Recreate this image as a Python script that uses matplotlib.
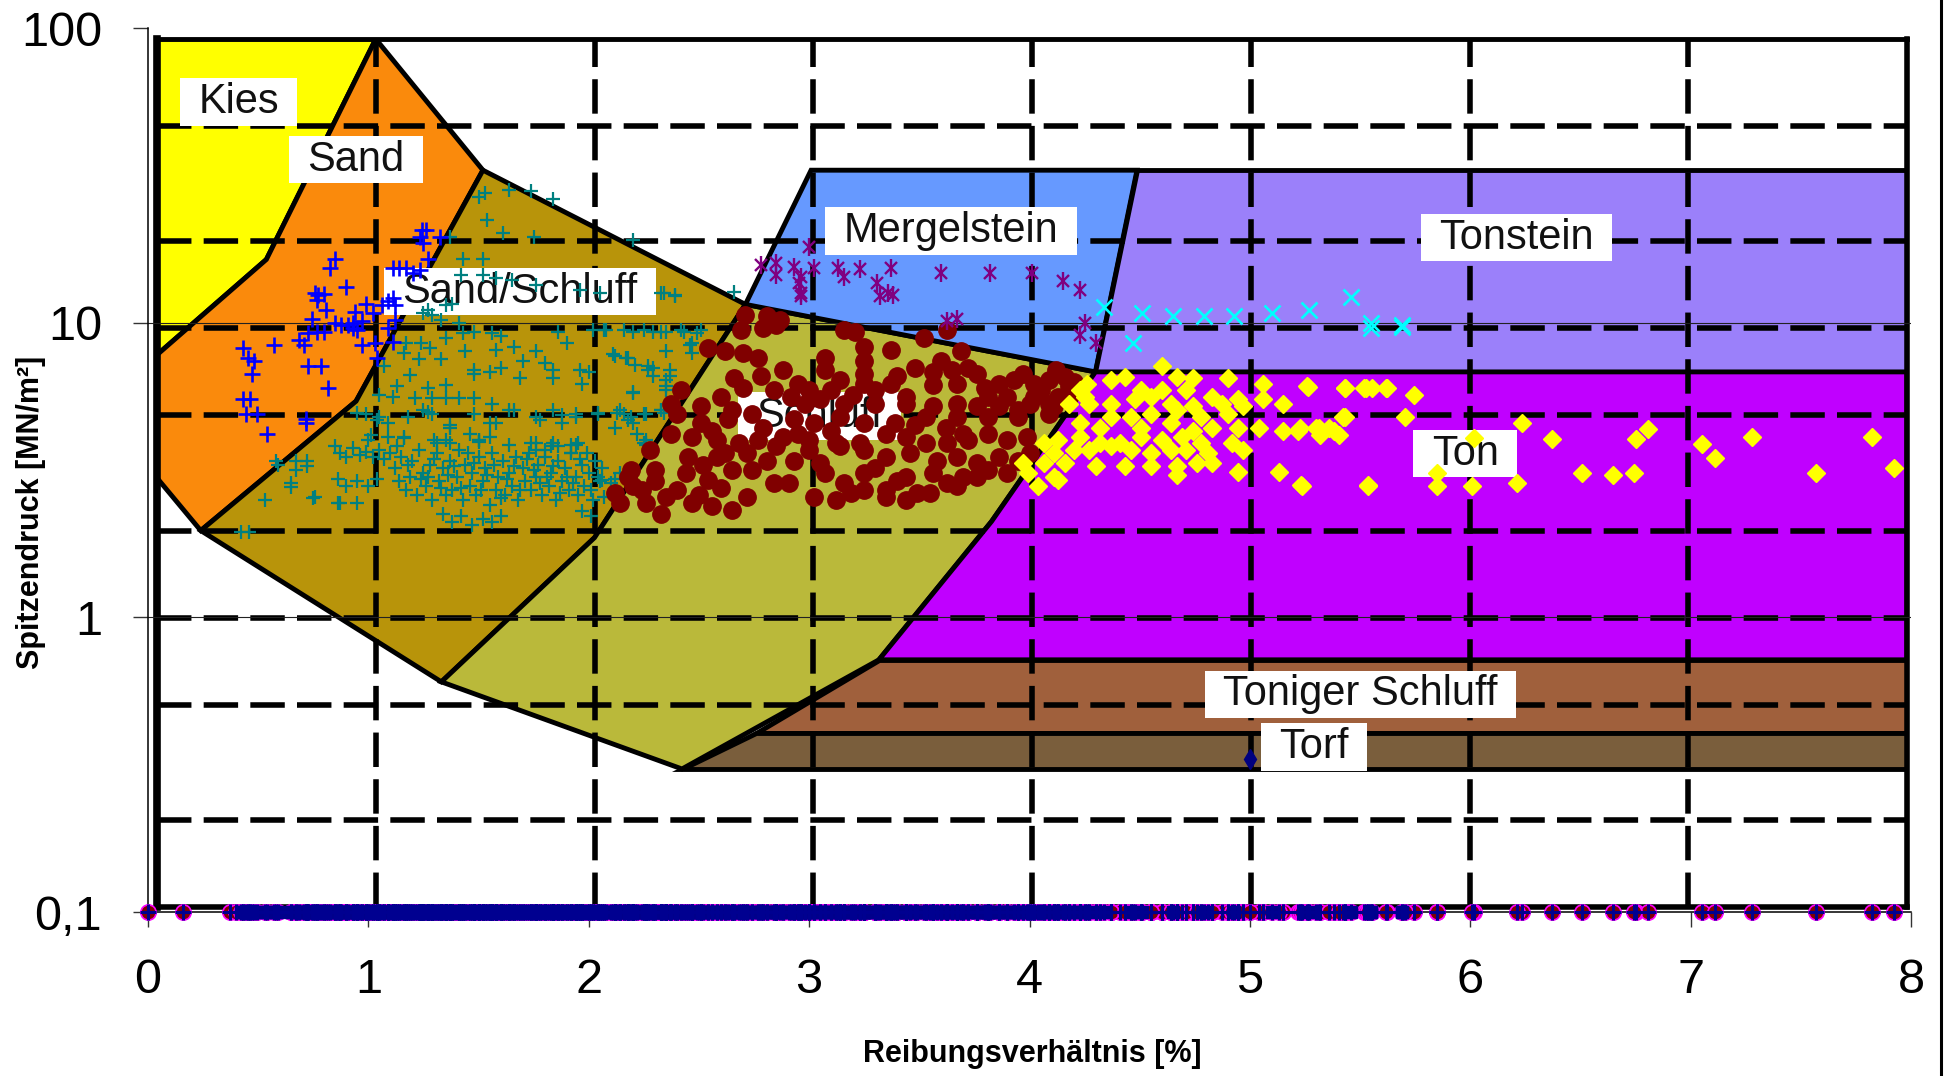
import numpy as np
import matplotlib
matplotlib.use("Agg")
import matplotlib.pyplot as plt
from matplotlib.lines import Line2D
from matplotlib.path import Path
from matplotlib.ticker import NullLocator

plt.rcParams['font.family'] = ['Liberation Sans', 'DejaVu Sans']

# ---- soil zones of the classification chart (x: Reibungsverhältnis %, y: MN/m²)
kies_x = [0, 1.0, 0.5, 0]
kies_y = [100, 100, 17.3, 8.1]
sand_x = [1.0, 1.49, 0.91, 0.2, 0, 0, 0.5]
sand_y = [100, 35.2, 5.6, 2.0, 3.04, 8.1, 17.3]
sandschluff_x = [1.49, 2.69, 2.0, 1.3, 0.2, 0.91]
sandschluff_y = [35.2, 12.1, 1.89, 0.6, 2.0, 5.6]
schluff_x = [2.69, 4.29, 3.815, 3.3, 2.4, 1.3, 2.0]
schluff_y = [12.1, 7.07, 2.15, 0.715, 0.3, 0.6, 1.89]
mergel_x = [2.99, 4.48, 4.29, 2.69]
mergel_y = [35.2, 35.2, 7.07, 12.1]
tonstein_x = [4.48, 8, 8, 4.29]
tonstein_y = [35.2, 35.2, 7.07, 7.07]
ton_x = [4.29, 8, 8, 3.3, 3.815]
ton_y = [7.07, 7.07, 0.715, 0.715, 2.15]
tonschluff_x = [3.3, 8, 8, 2.74]
tonschluff_y = [0.715, 0.715, 0.40, 0.40]
torf_x = [2.74, 8, 8, 2.4]
torf_y = [0.40, 0.40, 0.30, 0.30]

zone_labels = ['Kies', 'Sand', 'Sand/Schluff', 'Mergelstein', 'Tonstein',
               'Schluff', 'Ton', 'Toniger Schluff', 'Torf']
label_x = [0.374, 0.91, 1.66, 3.63, 6.216, 3.03, 5.98, 5.50, 5.29]
label_y = [60.5, 38.3, 13.4, 21.7, 20.6, 4.98, 3.69, 0.543, 0.357]

bg_grid_x = [1, 2, 3, 4, 5, 6, 7]
bg_grid_y = [0.2, 0.5, 1, 2, 5, 10, 20, 50]

# ---- measured points
sand_pts = [(1.243, 20.6), (1.263, 20.6), (1.232, 19.6), (1.249, 18.6), (1.324, 19.5), (1.269, 16.5),
            (0.848, 16.4), (0.827, 15.3), (1.111, 15.3), (1.141, 15.3), (1.172, 15.3), (1.202, 14.7),
            (1.232, 15.1), (0.898, 13.2), (0.756, 12.6), (0.771, 12.4), (0.797, 12.5), (0.766, 11.9),
            (0.807, 11.0), (0.989, 11.6), (1.060, 11.5), (1.091, 11.8), (1.111, 12.1), (1.121, 11.5),
            (0.939, 10.9), (1.020, 10.8), (0.746, 10.3), (0.848, 9.95), (0.878, 9.8), (0.908, 9.8),
            (0.929, 9.6), (0.949, 9.45), (0.929, 9.95), (0.969, 10.1), (1.121, 10.2), (1.091, 9.6),
            (0.766, 9.3), (0.797, 9.3), (0.726, 9.2), (0.686, 8.7), (0.706, 8.4), (0.574, 8.4),
            (0.432, 8.2), (0.453, 7.6), (0.483, 7.4), (0.473, 6.7), (0.726, 7.1), (0.787, 7.1),
            (0.817, 6.0), (0.969, 8.4), (1.030, 8.5), (1.111, 8.6), (1.040, 7.6), (0.432, 5.5),
            (0.463, 5.5), (0.443, 4.9), (0.493, 4.9), (0.540, 4.2), (0.716, 4.7), (0.716, 4.55)]

sandschluff_pts = [
    (1.50, 26.8), (1.53, 27.5), (1.64, 28.2), (1.74, 28.0), (1.84, 26.2), (1.54, 22.3), (1.61, 20.1),
    (1.75, 19.6), (1.37, 19.5), (1.43, 16.4), (1.52, 16.4), (1.42, 14.5), (1.52, 14.5), (1.58, 14.2),
    (1.65, 14.0), (1.76, 13.4), (1.96, 12.9), (2.05, 12.6), (2.34, 12.6), (2.39, 12.4), (1.27, 11.0),
    (1.35, 11.5), (1.38, 11.6), (1.25, 10.8), (1.29, 10.6), (1.33, 10.2), (1.41, 9.95), (1.43, 9.2),
    (1.48, 9.3), (1.56, 9.2), (1.60, 9.0), (1.86, 9.3), (2.02, 9.45), (2.08, 9.45), (2.20, 9.3),
    (2.29, 9.3), (2.35, 9.3), (2.43, 9.3), (2.49, 9.2), (1.17, 8.5), (1.24, 8.5), (1.28, 8.2),
    (1.35, 8.85), (1.44, 8.0), (1.58, 8.1), (1.66, 8.3), (1.76, 8.0), (1.90, 8.5), (2.12, 7.7),
    (2.18, 7.6), (2.27, 7.1), (2.37, 6.9), (2.46, 8.4), (2.47, 7.9), (1.16, 7.9), (1.23, 7.5),
    (1.33, 7.5), (1.48, 6.9), (1.60, 7.0), (1.70, 7.4), (1.80, 7.3), (1.84, 6.9), (1.96, 6.9),
    (2.00, 6.8), (1.07, 7.1), (1.13, 6.1), (1.19, 6.65), (1.27, 6.0), (1.35, 6.15), (1.48, 6.7),
    (1.55, 6.8), (1.69, 6.5), (1.84, 6.5), (1.97, 6.2), (2.20, 5.75), (2.29, 6.6), (2.35, 6.1),
    (2.37, 6.6), (1.05, 5.7), (1.11, 5.6), (1.21, 5.55), (1.29, 5.55), (1.35, 5.55), (1.41, 5.55),
    (1.48, 5.55), (1.56, 5.3), (1.66, 5.05), (1.84, 5.05), (1.94, 4.9), (2.04, 4.9), (2.16, 4.9),
    (2.25, 4.9), (2.33, 5.05), (0.99, 4.9), (1.05, 4.8), (1.25, 5.05), (1.29, 4.9), (1.37, 4.4),
    (1.48, 4.9), (1.58, 4.55), (1.76, 4.8), (1.88, 4.55), (2.12, 4.4), (2.20, 4.55), (1.01, 4.15),
    (1.09, 4.1), (1.16, 4.1), (1.31, 3.9), (1.35, 4.0), (1.50, 4.0), (1.76, 3.9), (1.84, 3.9),
    (1.94, 3.85), (2.25, 3.9), (0.95, 4.93), (1.04, 4.68), (1.09, 4.56), (1.18, 4.8), (1.27, 4.99),
    (1.37, 4.5), (1.55, 4.56), (1.64, 5.06), (1.78, 4.68), (1.88, 4.87), (1.94, 4.8), (2.04, 4.93),
    (2.13, 4.93), (2.18, 4.68), (2.34, 4.93), (1.00, 4.0), (1.16, 4.05), (1.30, 4.0), (1.37, 3.9),
    (1.50, 3.95), (1.64, 3.85), (1.76, 3.7), (1.83, 3.8), (1.92, 3.85), (0.58, 3.38), (0.67, 3.38),
    (0.72, 3.25), (0.65, 2.85), (0.76, 2.57), (0.86, 2.44), (2.20, 19.1), (2.33, 12.6), (2.39, 12.3),
    (2.66, 12.7), (2.07, 9.45), (2.16, 9.45), (2.25, 9.45), (2.33, 9.3), (2.42, 9.45), (2.51, 9.45),
    (2.35, 8.0), (2.47, 8.5), (2.11, 7.8), (2.17, 7.6), (2.21, 7.2), (2.27, 6.9), (2.29, 7.0),
    (2.35, 6.4), (2.35, 5.9), (2.20, 5.8), (2.14, 5.05), (2.19, 4.8), (2.26, 4.9), (2.33, 5.05),
    (2.26, 4.0), (2.26, 3.85), (2.06, 2.93), (2.10, 2.85), (2.12, 2.95), (2.07, 2.57),
    (1.10, 3.6), (1.12, 3.2), (1.14, 2.9), (1.15, 3.5), (1.17, 2.7), (1.19, 3.0), (1.20, 3.4),
    (1.22, 2.6), (1.23, 3.7), (1.25, 3.1), (1.26, 2.8), (1.28, 3.3), (1.29, 2.5), (1.31, 3.6),
    (1.32, 2.9), (1.34, 3.2), (1.35, 2.6), (1.37, 3.4), (1.38, 2.7), (1.40, 3.0), (1.41, 3.7),
    (1.43, 2.5), (1.44, 3.3), (1.46, 2.8), (1.47, 3.1), (1.49, 2.6), (1.50, 3.5), (1.52, 2.9),
    (1.53, 3.2), (1.55, 2.4), (1.56, 3.6), (1.58, 2.7), (1.59, 3.0), (1.61, 3.4), (1.62, 2.6),
    (1.64, 3.1), (1.65, 2.8), (1.67, 3.5), (1.68, 2.5), (1.70, 3.2), (1.71, 2.9), (1.73, 3.6),
    (1.74, 2.7), (1.76, 3.0), (1.77, 3.3), (1.79, 2.6), (1.80, 3.5), (1.82, 2.8), (1.83, 3.1),
    (1.85, 2.5), (1.86, 3.4), (1.88, 2.9), (1.89, 3.2), (1.91, 2.7), (1.92, 3.6), (1.94, 3.0),
    (1.95, 2.6), (1.97, 3.3), (1.98, 2.8), (2.00, 3.1), (2.02, 2.5), (2.03, 3.4), (2.05, 2.9),
    (2.06, 3.2), (1.13, 3.8), (1.18, 3.3), (1.24, 2.95), (1.30, 3.45), (1.36, 3.05), (1.42, 2.75),
    (1.48, 3.35), (1.54, 3.05), (1.60, 2.55), (1.66, 3.25), (1.72, 3.45), (1.78, 2.85), (1.84, 3.25),
    (1.90, 3.0), (1.96, 3.45), (2.01, 2.7), (1.27, 3.0), (1.33, 2.75), (1.39, 3.25), (1.45, 3.6),
    (1.51, 2.7), (1.57, 3.3), (1.63, 2.95), (1.69, 2.7), (1.75, 3.15), (1.81, 3.0), (1.87, 2.65),
    (1.93, 2.85), (1.99, 3.6), (2.04, 3.0), (0.85, 3.8), (0.87, 3.6), (0.90, 3.5), (0.93, 3.75),
    (0.96, 3.55), (0.99, 3.65), (1.02, 3.5), (1.05, 3.7), (1.07, 3.45), (0.86, 2.95), (0.90, 2.8),
    (0.95, 2.9), (1.00, 2.8), (1.04, 2.95), (1.46, 4.2), (1.50, 4.0), (1.55, 4.1), (1.74, 3.9),
    (1.80, 3.7), (1.86, 3.8), (1.92, 3.6), (1.95, 3.9), (1.34, 2.25), (1.38, 2.1), (1.42, 2.2),
    (1.47, 2.05), (1.52, 2.15), (1.56, 2.1), (1.60, 2.2), (1.97, 2.3), (2.01, 2.2), (2.26, 3.9),
    (2.22, 4.2), (2.14, 3.1), (2.18, 2.95), (0.53, 2.5), (0.65, 2.77), (0.67, 3.15), (0.59, 3.3),
    (0.72, 3.4), (0.75, 2.55), (0.87, 2.45), (0.95, 2.45), (0.42, 1.95), (0.46, 1.95)]

schluff_pts = [
    (2.71, 10.6), (2.81, 10.5), (2.87, 10.2), (2.69, 9.45), (2.79, 9.6), (2.85, 9.8), (3.16, 9.45),
    (3.21, 9.3), (3.25, 8.3), (3.37, 8.1), (3.52, 8.85), (3.625, 9.45), (3.69, 8.0), (2.54, 8.2),
    (2.62, 8.0), (2.70, 7.9), (2.77, 7.6), (2.66, 6.5), (3.07, 7.6), (3.07, 6.9), (3.25, 7.4),
    (3.25, 6.7), (3.25, 6.2), (3.14, 6.4), (3.37, 6.2), (3.44, 5.6), (3.56, 6.8), (3.65, 6.9),
    (3.56, 6.15), (3.67, 6.2), (3.76, 6.7), (3.86, 6.2), (3.81, 5.6), (3.93, 6.4), (3.97, 6.7),
    (4.02, 6.2), (4.09, 6.4), (4.16, 6.55), (4.18, 6.1), (4.13, 5.6), (4.11, 5.2), (4.02, 5.6),
    (3.95, 5.05), (3.86, 5.2), (3.76, 5.2), (3.67, 5.3), (3.56, 5.2), (3.44, 5.3), (3.30, 5.3),
    (3.16, 5.3), (3.05, 5.5), (2.98, 5.3), (2.92, 5.6), (2.84, 5.9), (2.74, 4.9), (2.65, 5.05),
    (2.51, 5.2), (2.42, 5.9), (2.375, 5.3), (2.40, 4.9), (2.51, 4.55), (2.63, 4.7), (2.79, 4.4),
    (2.93, 4.7), (3.02, 4.55), (3.14, 4.8), (3.25, 4.55), (3.39, 4.55), (3.53, 4.8), (3.67, 4.8),
    (3.81, 4.8), (3.95, 4.8), (4.09, 5.3), (4.09, 4.9), (4.18, 5.6), (2.47, 4.1), (2.58, 4.0),
    (2.68, 3.9), (2.77, 4.0), (2.88, 4.1), (3.00, 4.0), (3.12, 3.9), (3.23, 3.9), (3.35, 4.2),
    (3.44, 4.1), (3.53, 3.9), (3.625, 3.9), (3.72, 4.0), (3.81, 4.2), (3.90, 4.0), (3.99, 4.1),
    (2.28, 3.7), (2.375, 4.2), (2.58, 3.5), (2.72, 3.6), (2.81, 3.4), (2.93, 3.4), (3.05, 3.33),
    (3.14, 3.8), (3.25, 3.7), (3.35, 3.5), (3.46, 3.6), (3.58, 3.4), (3.67, 3.5), (3.76, 3.33),
    (3.86, 3.5), (3.95, 3.4), (2.19, 3.16), (2.30, 3.16), (2.44, 3.08), (2.54, 2.93), (2.65, 3.16),
    (2.74, 3.16), (2.84, 2.85), (2.91, 2.85), (3.07, 3.08), (3.16, 2.85), (3.25, 3.08), (3.35, 2.7),
    (3.44, 3.0), (3.56, 3.08), (3.625, 2.85), (3.76, 3.0), (3.81, 3.16), (2.12, 2.64), (2.24, 2.7),
    (2.35, 2.57), (2.47, 2.44), (2.56, 2.38), (2.65, 2.31), (2.72, 2.57), (3.02, 2.57), (3.12, 2.5),
    (3.19, 2.64), (3.25, 2.7), (3.35, 2.57), (3.44, 2.5), (3.49, 2.64), (3.67, 2.78), (2.33, 2.25),
    (2.14, 2.44), (2.20, 2.8), (2.26, 2.45), (2.18, 3.0), (2.30, 2.9), (2.40, 2.7), (2.50, 2.6),
    (2.60, 2.75), (2.52, 3.3), (2.62, 3.6), (2.45, 3.5), (2.56, 4.3), (2.60, 5.6), (2.70, 6.0),
    (2.78, 6.6), (2.88, 6.9), (2.95, 6.2), (3.00, 5.9), (3.10, 5.9), (3.20, 5.7), (3.30, 5.9),
    (3.40, 6.6), (3.48, 7.0), (3.60, 7.4), (3.72, 7.0), (3.80, 6.0), (3.90, 5.6), (4.05, 5.9),
    (4.12, 6.9), (4.20, 6.3), (4.00, 5.3), (3.48, 4.5), (3.62, 4.4), (3.70, 4.2), (3.10, 4.3),
    (2.95, 4.2), (2.85, 3.8), (3.00, 3.7), (3.30, 3.2), (3.40, 2.9), (3.55, 2.65), (3.70, 3.0),
    (3.90, 3.1), (4.00, 3.6)]

mergel_pts = [(3.00, 18.1), (2.78, 15.7), (2.85, 15.9), (2.85, 14.5), (2.93, 15.5), (2.965, 14.3),
              (3.02, 15.3), (3.13, 15.3), (3.16, 14.3), (3.23, 15.2), (3.37, 15.3), (3.31, 13.6),
              (3.32, 12.3), (3.36, 12.6), (3.38, 12.4), (2.965, 12.6), (2.965, 12.3), (3.60, 14.7),
              (3.82, 14.7), (4.01, 14.7), (4.15, 13.8), (4.23, 12.9), (3.625, 10.1), (3.67, 10.3),
              (4.25, 9.95), (4.23, 9.1), (4.30, 8.5), (2.953, 13.6)]

tonstein_pts = [(4.34, 11.3), (4.47, 8.5), (4.51, 10.8), (4.65, 10.5), (4.79, 10.5), (4.93, 10.5),
                (5.10, 10.8), (5.27, 11.0), (5.46, 12.2), (5.55, 9.95), (5.55, 9.6), (5.69, 9.8),
                (5.69, 9.7)]

ton_pts = [
    (4.60, 7.1), (4.67, 6.55), (4.74, 6.5), (4.90, 6.5), (5.06, 6.2), (5.26, 6.1), (5.43, 6.0),
    (5.52, 6.0), (5.62, 6.0), (4.26, 6.2), (4.37, 6.4), (4.435, 6.55), (4.505, 5.9), (4.60, 5.9),
    (4.71, 5.9), (4.83, 5.6), (4.945, 5.5), (5.06, 5.5), (5.15, 5.3), (4.18, 5.3), (4.27, 5.3),
    (4.37, 5.3), (4.48, 5.5), (4.55, 5.6), (4.64, 5.3), (4.74, 5.2), (4.875, 5.3), (4.97, 5.2),
    (4.37, 4.8), (4.46, 4.8), (4.55, 4.9), (4.67, 5.05), (4.78, 4.8), (4.90, 4.9), (4.23, 4.55),
    (4.32, 4.4), (4.505, 4.4), (4.64, 4.55), (4.74, 4.3), (4.83, 4.4), (4.945, 4.4), (5.04, 4.4),
    (5.15, 4.3), (5.22, 4.3), (5.315, 4.4), (5.38, 4.3), (5.43, 4.8), (4.065, 3.9), (4.13, 4.0),
    (4.23, 4.1), (4.32, 3.9), (4.41, 3.9), (4.505, 4.1), (4.60, 4.0), (4.69, 4.1), (4.78, 3.9),
    (4.92, 3.9), (4.97, 3.7), (4.11, 3.6), (4.20, 3.7), (4.27, 3.7), (4.37, 3.8), (4.46, 3.7),
    (4.55, 3.6), (4.64, 3.7), (4.71, 3.7), (4.81, 3.6), (3.97, 3.33), (4.065, 3.33), (4.16, 3.33),
    (4.30, 3.25), (4.435, 3.25), (4.55, 3.25), (4.67, 3.25), (4.76, 3.33), (4.83, 3.33),
    (3.995, 3.08), (4.11, 3.0), (4.67, 3.04), (4.945, 3.12), (5.13, 3.12), (4.04, 2.78),
    (4.13, 2.93), (5.23, 2.81), (5.535, 2.81), (4.23, 5.9), (4.25, 5.6), (5.264, 6.04),
    (5.432, 6.0), (5.525, 6.0), (5.553, 6.0), (5.618, 6.0), (5.745, 5.7), (5.423, 4.8),
    (5.702, 4.8), (5.30, 4.38), (5.32, 4.16), (5.357, 4.38), (5.404, 4.16), (5.227, 4.38),
    (6.233, 4.55), (6.019, 4.05), (6.373, 4.02), (6.751, 4.02), (6.807, 4.34), (7.05, 3.87),
    (7.109, 3.47), (7.277, 4.1), (7.821, 4.1), (5.847, 3.1), (5.534, 2.8), (5.851, 2.8),
    (6.01, 2.8), (6.211, 2.86), (6.509, 3.08), (6.649, 3.04), (6.742, 3.08), (7.569, 3.08),
    (7.925, 3.2), (5.236, 2.8)]

torf_pts = [(5.0, 0.33)]

# points whose value lies at the lower axis limit (x only)
extra_floor_x = [0.0, 0.16, 0.37, 0.40]

x_ticks = [0, 1, 2, 3, 4, 5, 6, 7, 8]
y_ticks = [0.1, 1, 10, 100]
y_ticklabels = ['0,1', '1', '10', '100']
major_grid_y = [1, 10]

W, H = 1944, 1076
fig = plt.figure(figsize=(W / 100, H / 100), dpi=100)

# background classification chart
ax_bg = fig.add_axes([157 / W, 1 - 907 / H, 1750 / W, 868 / H])
ax_bg.set_zorder(1)
ax_bg.set_xlim(0, 8)
ax_bg.set_yscale('log')
ax_bg.set_ylim(0.1, 100)
ax_bg.set_xticks([])
ax_bg.set_yticks([])
ax_bg.yaxis.set_minor_locator(NullLocator())
for side, lw in [('left', 5.5), ('right', 4), ('top', 3.5), ('bottom', 4)]:
    ax_bg.spines[side].set_linewidth(lw)
    ax_bg.spines[side].set_zorder(6)

zones = [(kies_x, kies_y, '#FFFF00'), (sand_x, sand_y, '#FA8A0C'),
         (sandschluff_x, sandschluff_y, '#B8940A'), (schluff_x, schluff_y, '#BAB93A'),
         (mergel_x, mergel_y, '#6699FF'), (tonstein_x, tonstein_y, '#9B80FA'),
         (ton_x, ton_y, '#C000FF'), (tonschluff_x, tonschluff_y, '#A0603C'),
         (torf_x, torf_y, '#7A5E3C')]
for zx, zy, col in zones:
    ax_bg.fill(zx, zy, facecolor=col, edgecolor='black', linewidth=3.5,
               joinstyle='miter', zorder=1)

dash = (0, (6.2, 2.2))
for gy in bg_grid_y:
    ax_bg.axhline(gy, color='black', lw=4, linestyle=dash, dash_capstyle='butt', zorder=2)
for gx in bg_grid_x:
    ax_bg.axvline(gx, color='black', lw=4, linestyle=dash, dash_capstyle='butt', zorder=2)


def label_box(x0, y0, width, height, mutation_size):
    px, py = 0.44 * mutation_size, 0.09 * mutation_size
    x0, y0 = x0 - px, y0 - py
    x1, y1 = x0 + width + 2 * px, y0 + height + 2 * py
    return Path([(x0, y0), (x1, y0), (x1, y1), (x0, y1), (x0, y0)], closed=True)


for name, lx, ly in zip(zone_labels, label_x, label_y):
    ax_bg.text(lx, ly, name, fontsize=30, color='#111111', ha='center', va='center',
               zorder=5, bbox=dict(boxstyle=label_box, facecolor='white', edgecolor='none'))

# main chart with the measurements
ax = fig.add_axes([148 / W, 1 - 912 / H, 1763 / W, 884 / H])
ax.set_zorder(2)
ax.patch.set_alpha(0)
ax.set_xlim(0, 8)
ax.set_yscale('log')
ax.set_ylim(0.1, 100)
ax.set_xticks(x_ticks)
ax.set_xticklabels([str(t) for t in x_ticks])
ax.set_yticks(y_ticks)
ax.set_yticklabels(y_ticklabels)
ax.yaxis.set_minor_locator(NullLocator())
ax.tick_params(length=11, width=1, color='#333333', labelsize=35, pad=22)
for side in ['top', 'right']:
    ax.spines[side].set_visible(False)
for side in ['left', 'bottom']:
    ax.spines[side].set_linewidth(1.1)
for gy in major_grid_y:
    ax.axhline(gy, color='#222222', lw=0.8, zorder=1)


def xy(pts):
    a = np.array(pts)
    return a[:, 0], a[:, 1]


sx, sy = xy(sandschluff_pts)
ax.plot(sx, sy, ls='none', marker='+', ms=10.5, mew=1.6, color='#008080', zorder=3)
bx, by = xy(sand_pts)
ax.plot(bx, by, ls='none', marker='+', ms=11.5, mew=1.9, color='#0000FF', zorder=3)
cx, cy = xy(schluff_pts)
ax.plot(cx, cy, ls='none', marker='o', ms=12.5, color='#800000', mec='#800000', zorder=3)
mx, my = xy(mergel_pts)
ax.plot(mx, my, ls='none', marker='x', ms=9, mew=1.7, color='#800080', zorder=3)
ax.plot(mx, my, ls='none', marker='|', ms=12.5, mew=1.7, color='#800080', zorder=3)
tx, ty = xy(tonstein_pts)
ax.plot(tx, ty, ls='none', marker='x', ms=11, mew=1.9, color='#00FFFF', zorder=3)
yx, yy = xy(ton_pts)
ax.plot(yx, yy, ls='none', marker='D', ms=9, color='#FFFF00', mec='#FFFF00', zorder=3)
fx, fy = xy(torf_pts)
ax.plot(fx, fy, ls='none', marker='d', ms=10, color='#000080', zorder=3)

# row of markers sitting on the lower axis limit
dense_x = np.concatenate([bx, sx, cx, mx, tx])
floor_x = np.concatenate([extra_floor_x, dense_x, yx, fx])
ax.plot(floor_x, np.full(len(floor_x), 0.1), ls='none', marker='o', ms=11,
        color='#800000', mec='#FF00FF', mew=1.2, clip_on=False, zorder=4)
ax.plot(dense_x, np.full(len(dense_x), 0.1), ls='none', marker='s', ms=8,
        color='#00008B', clip_on=False, zorder=5)
ax.plot(floor_x, np.full(len(floor_x), 0.1), ls='none', marker='+', ms=11,
        color='#000090', mew=2.2, clip_on=False, zorder=6)

fig.text(1032 / W, 1 - 1054 / H, 'Reibungsverhältnis [%]', fontsize=22,
         fontweight='bold', ha='center', va='center')
fig.text(31 / W, 1 - 512 / H, 'Spitzendruck [MN/m²]', fontsize=22,
         fontweight='bold', ha='center', va='center', rotation=90)

fig.add_artist(Line2D([1941 / W, 1941 / W], [0, 1], color='black', lw=2.2))

fig.savefig('out.png', dpi=100)
